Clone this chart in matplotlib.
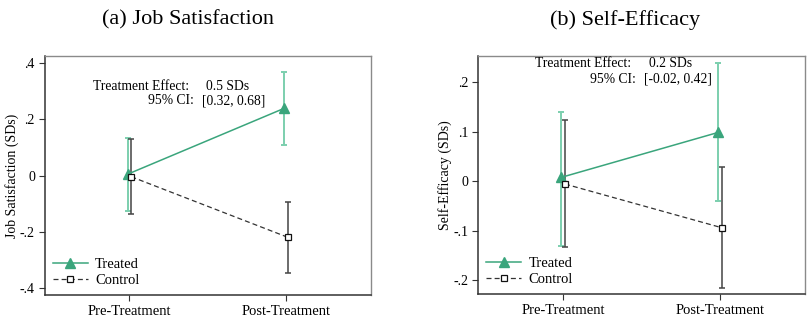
import matplotlib
matplotlib.use('Agg')
import matplotlib.pyplot as plt

plt.rcParams['font.family'] = ['Liberation Serif', 'DejaVu Serif']

# ── data ─────────────────────────────────────────────
periods = ['Pre-Treatment', 'Post-Treatment']

# (a) Job Satisfaction
js_treat = [0.005, 0.240]
js_treat_lo = [-0.126, 0.109]
js_treat_hi = [0.135, 0.369]
js_ctrl = [-0.004, -0.220]
js_ctrl_lo = [-0.137, -0.347]
js_ctrl_hi = [0.132, -0.094]

# (b) Self-Efficacy
se_treat = [0.0075, 0.0985]
se_treat_lo = [-0.131, -0.041]
se_treat_hi = [0.140, 0.2395]
se_ctrl = [-0.006, -0.0945]
se_ctrl_lo = [-0.134, -0.217]
se_ctrl_hi = [0.1235, 0.029]

GREEN = '#3aa57c'
GREEN_LT = '#7ccfae'
DARK = '#333333'


def panel(ax, treat, tlo, thi, ctrl, clo, chi, ylabel, yticks, ylabels, ylim,
          eff, ci, txy):
    xs = list(range(len(periods)))
    xt = [x - 0.012 for x in xs]
    xc = [x + 0.012 for x in xs]

    ax.errorbar(xt, treat, yerr=[[t - l for t, l in zip(treat, tlo)],
                                 [h - t for t, h in zip(treat, thi)]],
                fmt='none', ecolor=GREEN_LT, elinewidth=1.4, capsize=2.0,
                capthick=1.4, zorder=2)
    ax.errorbar(xc, ctrl, yerr=[[c - l for c, l in zip(ctrl, clo)],
                                [h - c for c, h in zip(ctrl, chi)]],
                fmt='none', ecolor='#444444', elinewidth=1.1, capsize=2.0,
                capthick=1.1, zorder=2)
    ax.plot(xt, treat, color=GREEN, lw=1.1, marker='^', ms=6.5,
            mfc=GREEN, mec=GREEN, label='Treated', zorder=3)
    ax.plot(xc, ctrl, color=DARK, lw=0.9, ls=(0, (4, 2.5)), marker='s', ms=5,
            mfc='white', mec='#111111', mew=0.9, label='Control', zorder=3)

    ax.set_xlim(-0.54, 1.54)
    ax.set_ylim(*ylim)
    ax.set_xticks(xs)
    ax.set_xticklabels(periods, fontsize=10.5)
    ax.set_yticks(yticks)
    ax.set_yticklabels(ylabels, fontsize=10)
    ax.set_ylabel(ylabel, fontsize=10, labelpad=1)
    ax.tick_params(direction='out', length=4, width=0.8, color=DARK, pad=3)

    for s in ['top', 'right']:
        ax.spines[s].set_color('#8a8a8a')
        ax.spines[s].set_linewidth(1.0)
    for s in ['left', 'bottom']:
        ax.spines[s].set_color(DARK)
        ax.spines[s].set_linewidth(1.1)

    (lx1, lx2, vx1, vx2, y1, y2) = txy
    ax.text(lx1, y1, 'Treatment Effect:', ha='right', va='center', fontsize=9.8)
    ax.text(vx1, y1, eff, ha='left', va='center', fontsize=9.8)
    ax.text(lx2, y2, '95% CI:', ha='right', va='center', fontsize=9.8)
    ax.text(vx2, y2, ci, ha='left', va='center', fontsize=9.8)

    ax.legend(loc='lower left', frameon=False, fontsize=10.5, handlelength=2.4,
              handletextpad=0.5, labelspacing=0.2, borderaxespad=0.3,
              borderpad=0.25)


fig = plt.figure(figsize=(8.12, 3.25), dpi=100)
ax1 = fig.add_axes([44.7 / 812, 1 - 295 / 325, (371 - 44.7) / 812, (295 - 56) / 325])
ax2 = fig.add_axes([478.3 / 812, 1 - 294.3 / 325, (805 - 478.3) / 812, (294.3 - 56) / 325])

panel(ax1, js_treat, js_treat_lo, js_treat_hi, js_ctrl, js_ctrl_lo, js_ctrl_hi,
      'Job Satisfaction (SDs)', [-0.4, -0.2, 0, 0.2, 0.4],
      ['-.4', '-.2', '0', '.2', '.4'], (-0.425, 0.426),
      '0.5 SDs', '[0.32, 0.68]', (0.38, 0.41, 0.49, 0.46, 0.319, 0.266))
panel(ax2, se_treat, se_treat_lo, se_treat_hi, se_ctrl, se_ctrl_lo, se_ctrl_hi,
      'Self-Efficacy (SDs)', [-0.2, -0.1, 0, 0.1, 0.2],
      ['-.2', '-.1', '0', '.1', '.2'], (-0.229, 0.253),
      '0.2 SDs', '[-0.02, 0.42]', (0.434, 0.466, 0.544, 0.512, 0.238, 0.206))

fig.text(188 / 812, 1 - 20 / 325, '(a) Job Satisfaction', ha='center', va='center',
         fontsize=16)
fig.text(625 / 812, 1 - 20 / 325, '(b) Self-Efficacy', ha='center', va='center',
         fontsize=16)

fig.savefig('out.png', dpi=100, facecolor='white')
